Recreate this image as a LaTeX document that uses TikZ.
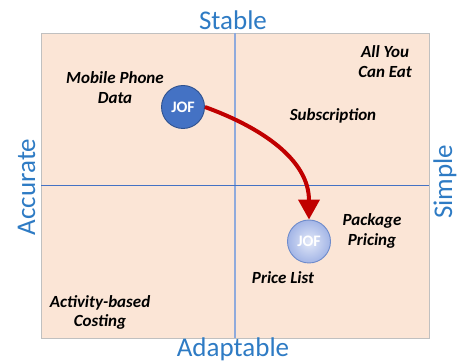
\documentclass[tikz,border=0pt]{standalone}
\usepackage{fontspec}
\setmainfont{Carlito}
\usetikzlibrary{arrows.meta}
\definecolor{panel}{HTML}{FBE5D6}
\definecolor{panelrule}{HTML}{C0C0C0}
\definecolor{axisblue}{HTML}{2E7BC4}
\definecolor{vline}{HTML}{8FAADC}
\definecolor{hline}{HTML}{4472C4}
\definecolor{jofdark}{HTML}{4472C4}
\definecolor{jofdarkrim}{HTML}{2F528F}
\definecolor{joflightin}{HTML}{E2E8F8}
\definecolor{joflightout}{HTML}{A3B5E6}
\definecolor{joflightrim}{HTML}{6E8BCB}
\definecolor{movered}{HTML}{C00000}
\tikzset{
  axislabel/.style={text=axisblue, font=\fontsize{27}{30}\selectfont, inner sep=0pt},
  quadlabel/.style={font=\fontsize{17}{20}\selectfont\bfseries\itshape, align=center, inner sep=0pt, anchor=base},
  jof/.style={circle, minimum size=43pt, inner sep=0pt, text=white, font=\fontsize{16}{18}\selectfont\bfseries},
}
\begin{document}
\begin{tikzpicture}[x=1pt,y=-1pt]
  \useasboundingbox (0,0) rectangle (458,363);
  % quadrant panel
  \fill[panel] (41,33) rectangle (429,338);
  \draw[panelrule, line width=0.8pt] (41,33) rectangle (429,338);
  \draw[vline, line width=1.6pt] (235,33) -- (235,338);
  \draw[hline, line width=0.9pt] (41,185) -- (429,185);

  % axis captions
  \node[axislabel, anchor=base] (stable) at (233,30) {Stable};
  \node[axislabel, anchor=base] (adapt) at (233,356) {Adaptable};
  \node[axislabel, anchor=base, rotate=90] (accurate) at (35,187) {Accurate};
  \node[axislabel, anchor=base, rotate=90] (simple) at (452,182) {Simple};

  % quadrant examples (anchored on the baseline of the last line)
  \node[quadlabel] (mobile) at (115,104) {Mobile Phone\\Data};
  \node[quadlabel] (allyou) at (385,78) {All You\\Can Eat};
  \node[quadlabel] (subs) at (333,121) {Subscription};
  \node[quadlabel] (package) at (372,246) {Package\\Pricing};
  \node[quadlabel] (pricelist) at (283,284) {Price List};
  \node[quadlabel] (abc) at (100,327) {Activity-based\\Costing};

  % positions before and after
  \node[jof, fill=jofdark, draw=jofdarkrim, line width=0.9pt] (from) at (183,107) {JOF};
  \node[jof, inner color=joflightin, outer color=joflightout, draw=joflightrim, line width=0.9pt] (to) at (309,241.5) {JOF};

  \draw[movered, line width=4pt, -{Triangle[length=20pt,width=21pt]}]
    (from.east) to[out=-20, in=90, looseness=1] (to.north);
\end{tikzpicture}
\end{document}
